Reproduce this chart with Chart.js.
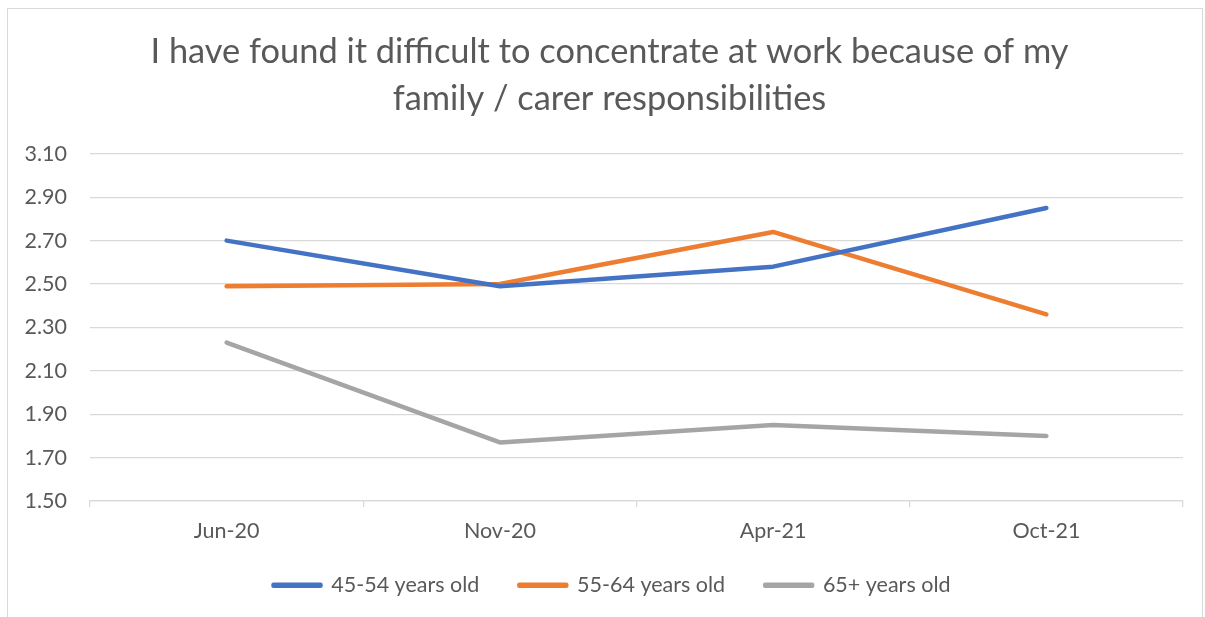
<!DOCTYPE html>
<html>
<head>
<meta charset="utf-8">
<script src="https://cdn.jsdelivr.net/npm/chart.js@4"></script>
<style>
  html, body { margin: 0; padding: 0; background: #ffffff; }
  #wrap { position: relative; width: 1205px; height: 617px; overflow: hidden; background: #fff; }
  #frame { position: absolute; left: 7px; top: 8px; width: 1196px; height: 640px; border: 1px solid #d9d9d9; box-sizing: border-box; }
  canvas { position: absolute; left: 0; top: 0; }
</style>
</head>
<body>
<div id="wrap">
  <div id="frame"></div>
  <canvas id="c" width="1205" height="617"></canvas>
</div>
<script>
const titleLines = ["I have found it difficult to concentrate at work because of my", "family / carer responsibilities"];
const categories = ["Jun-20", "Nov-20", "Apr-21", "Oct-21"];
const age45to54 = [2.70, 2.49, 2.58, 2.85];
const age55to64 = [2.49, 2.50, 2.74, 2.36];
const age65plus = [2.23, 1.77, 1.85, 1.80];
const seriesNames = ["45-54 years old", "55-64 years old", "65+ years old"];
const seriesColors = ["#4472C4", "#ED7D31", "#A5A5A5"];
const yMin = 1.5, yMax = 3.1, yStep = 0.2;

const FONT = "Lato, 'Open Sans', sans-serif";
const TEXT = "#595959";
const GRID = "#d9d9d9";

function ds(label, data, color) {
  return {
    label, data,
    borderColor: color, backgroundColor: color,
    borderWidth: 4.5, pointRadius: 0, pointHoverRadius: 0,
    borderCapStyle: 'round', borderJoinStyle: 'round', tension: 0
  };
}

// Shift title/legend blocks to match the reference placement
const placementPlugin = {
  id: 'placement',
  afterLayout(chart) {
    const t = chart.titleBlock;
    if (t) { t.left += 18; t.right += 18; }
    const l = chart.legend;
    if (l) {
      const h = l.bottom - l.top;
      l.left += 20.5; l.right += 20.5;
      l.top = 534.5; l.bottom = l.top + h;
    }
    const x = chart.scales.x;
    if (x) { x.bottom = chart.height; }
  }
};

new Chart(document.getElementById('c'), {
  type: 'line',
  data: {
    labels: categories,
    datasets: [
      ds(seriesNames[0], age45to54, seriesColors[0]),
      ds(seriesNames[1], age55to64, seriesColors[1]),
      ds(seriesNames[2], age65plus, seriesColors[2])
    ]
  },
  plugins: [placementPlugin],
  options: {
    responsive: false,
    animation: false,
    devicePixelRatio: 1,
    layout: { padding: { left: 0, right: 22, top: 0, bottom: 0.5 } },
    plugins: {
      tooltip: { enabled: false },
      title: {
        display: true,
        text: titleLines,
        color: TEXT,
        font: { family: FONT, size: 34.4, weight: 'normal', lineHeight: 1.349 },
        padding: { top: 29, bottom: 32 }
      },
      legend: {
        position: 'bottom',
        labels: {
          color: TEXT,
          font: { family: FONT, size: 21.5 },
          boxWidth: 47,
          boxHeight: 1,
          padding: 40,
          generateLabels(chart) {
            return chart.data.datasets.map((d, i) => ({
              text: d.label,
              fillStyle: d.borderColor,
              strokeStyle: d.borderColor,
              lineWidth: 4.5,
              lineCap: 'round',
              lineJoin: 'round',
              fontColor: TEXT,
              hidden: false,
              datasetIndex: i
            }));
          }
        }
      }
    },
    scales: {
      x: {
        offset: true,
        grid: { display: true, offset: true, drawOnChartArea: false, drawTicks: true, tickLength: 6, tickColor: GRID, color: GRID, lineWidth: 1.3 },
        border: { display: true, color: GRID, width: 1.3 },
        ticks: { color: TEXT, font: { family: FONT, size: 21.5 }, padding: 11, maxRotation: 0 },
        afterFit(scale) { scale.height = 44; }
      },
      y: {
        min: yMin, max: yMax,
        grid: { color: GRID, lineWidth: 1.3, drawTicks: false },
        border: { display: false },
        ticks: {
          stepSize: yStep,
          color: TEXT,
          font: { family: FONT, size: 21.5 },
          padding: 23,
          callback: v => Number(v).toFixed(2)
        },
        afterFit(scale) { scale.width = 90; }
      }
    }
  }
});
</script>
</body>
</html>
